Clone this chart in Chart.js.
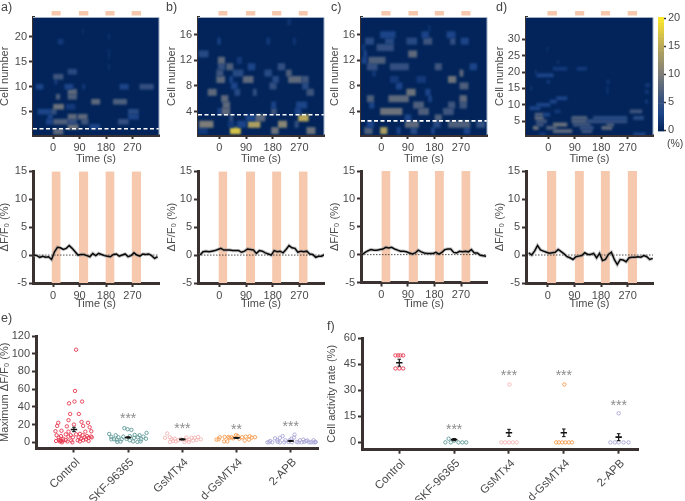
<!DOCTYPE html>
<html>
<head>
<meta charset="utf-8">
<script src="https://cdn.jsdelivr.net/npm/chart.js@4"></script>
<style>
  html, body { margin: 0; padding: 0; background: #fff; }
  #page { position: relative; width: 685px; height: 501px; overflow: hidden; font-family: "Liberation Sans", Arial, sans-serif; color: #444; }
  canvas { position: absolute; }
  .lab { position: absolute; white-space: nowrap; line-height: 1; }
</style>
</head>
<body>
<div id="page"></div>
<script>
// heat map cells: [cell row, start (s), end (s), dF/F0 (%)]
const cellsA = [[1,0,34,8],[2,51,85,9],[2,125,159,3],[3,-23,0,3],[3,0,51,7],[3,51,80,5],[3,97,119,6],[3,222,256,5],
  [4,-17,0,3],[4,51,80,8],[4,85,116,8],[4,256,290,3],[5,-51,-6,3],[5,-6,11,5],[5,256,290,4],[6,0,36,9],[6,45,75,2],
  [7,131,159,8],[7,205,250,7],[8,11,23,7],[8,51,80,7],[9,51,80,8],[10,-57,-34,3],[10,40,68,3],[10,227,256,3],
  [10,295,341,5],[10,100,108,2],[11,5,15,2],[12,0,34,6],[13,51,80,4],[14,188,192,1.5],[16,188,192,1.5],[17,188,192,1.5],
  [19,17,34,2],[20,188,192,1.5],[21,100,104,1]];
const cellsB = [[1,37,71,17],[1,176,199,9],[1,295,323,9],[1,-70,-40,2],[2,-67,-21,10],[2,97,137,14],[2,199,227,11],
  [2,255,266,5],[2,30,50,2],[2,60,90,3],[3,120,154,8],[3,267,300,15],[3,35,45,5],[3,90,120,3],[4,7,35,8],[4,176,192,6],
  [4,255,275,3],[4,-5,5,3],[5,12,35,8],[5,260,295,3],[5,176,190,3],[6,7,29,8],[7,-38,-10,8],[7,52,69,4],[7,114,125,5],
  [7,295,318,6],[8,170,192,5],[8,40,60,3],[8,280,300,4],[9,-9,18,8],[9,35,45,3],[9,80,114,8],[9,233,278,8],[9,278,300,6],
  [9,180,200,4],[10,-9,12,6],[10,46,80,4],[10,153,176,4],[10,226,243,7],[11,-4,18,5],[11,24,46,7],[11,97,120,3],
  [11,198,221,5],[12,-4,18,8],[12,60,75,2],[13,-70,-38,4],[15,-5,3,3],[15,160,170,2],[15,250,256,2],[18,230,240,1.5]];
const cellsC = [[1,-57,-31,7],[1,-3,19,14],[1,53,64,3],[1,100,120,4],[1,170,180,3],[1,280,300,3],[2,-48,-26,3],[2,81,126,8],
  [2,227,300,7],[2,323,351,5],[2,177,199,4],[3,182,204,7],[3,80,100,3],[4,-3,70,9],[4,126,160,7],[4,210,244,6],[5,109,143,7],
  [5,227,249,6],[5,266,289,6],[5,-40,-25,3],[6,-48,-26,7],[6,25,92,8],[6,266,289,8],[6,160,170,3],[7,86,115,9],[7,150,165,3],
  [8,266,294,7],[8,50,70,3],[9,30,58,2],[9,227,253,9],[9,120,150,2],[10,266,277,8],[10,-30,-20,2],[11,-48,-14,5],[11,30,92,5],
  [11,182,204,6],[11,300,323,3],[12,-43,13,7],[12,-65,-50,3],[13,92,120,8],[13,-60,-50,3],[14,-15,41,5],[14,-65,-55,2],
  [15,-54,-26,4],[15,14,41,4],[15,86,120,4],[15,143,171,6],[15,234,250,5],[15,270,295,3],[16,-3,47,3],[16,137,160,3],
  [16,222,250,3],[17,160,165,1.5]];
const cellsD = [[1,290,330,3],[1,-30,-10,2],[2,17,80,8],[2,114,148,6],[3,-51,-34,9],[3,-6,28,7],[3,108,153,5],[3,182,216,8],
  [4,-40,-17,6],[4,17,63,9],[4,85,142,6],[4,199,222,7],[5,-40,-6,6],[5,80,130,7],[5,130,267,5],[6,-45,-17,8],[6,80,131,7],
  [6,153,267,4],[6,290,324,4],[7,-45,-17,7],[7,-17,5,3],[8,278,318,6],[8,22,40,2],[9,-63,-28,3],[10,-40,6,3],[11,6,28,3],
  [12,28,63,3],[15,199,203,2],[14,199,203,2],[17,199,207,2],[19,-40,17,3],[20,-45,-40,2],[21,17,63,2],[21,97,131,2],
  [15,-60,-56,2],[27,-5,-1,1.5],[17,-5,5,2],[16,330,345,2],[14,330,340,2],[11,330,338,2],[23,30,35,1.5]];

// light on periods per panel (s)
const stimA = [[-5,26],[88,120],[178,209],[267,299]];
const stimB = [[-3,27],[90,121],[178,209],[268,298]];
const stimC = [[0,31],[92,124],[181,212],[271,302]];
const stimD = [[-3,29],[91,122],[179,210],[270,302]];

const timeTicks = [0, 90, 180, 270];
const rowTicksA = [5, 10, 15, 20];
const rowTicksB = [4, 8, 12, 16];
const rowTicksD = [5, 10, 15, 20, 25, 30];
const traceTicks = [-5, 0, 5, 10, 15];

// mean traces, one value every 10 s
const traceTimes = [-65,-55,-45,-35,-25,-15,-5,5,15,25,35,45,55,65,75,85,95,105,115,125,135,145,155,165,175,185,195,205,215,225,235,245,255,265,275,285,295,305,315,325,335,345,355];
const traceA = [0,-0.1,-0.4,-0.2,-0.4,-0.3,-0.8,0.6,1.4,1.3,1,1.2,1.7,1.2,0.6,0,0.1,0.1,-0.1,-0.3,0.3,-0.1,0.3,0.1,-0.1,-0.2,-0.3,0.1,0.2,-0.2,0,0.2,-0.3,-0.1,0.4,0,-0.2,0.2,0.1,0.2,-0.1,-0.6,-0.3];
const traceB = [0,0.6,0.7,0.6,0.7,0.8,1,1.2,0.9,0.9,0.9,0.8,0.8,0.8,0.5,0.7,1.1,1,0.9,0.3,0.8,0.7,0.4,0.2,0,0.8,0.6,0.7,0.4,1,1.7,1.3,1.2,0.5,0.7,0.6,0.7,0.2,0.1,-0.4,-0.2,-0.2,0.1];
const traceC = [0,0.4,0.7,0.9,0.8,0.8,0.9,1,1.3,1.2,1.3,1,0.8,0.6,0.6,0.5,0.3,0.1,0.3,0.8,0.5,0.3,0.2,0.2,0.2,0.4,0.1,0.4,0.9,1,1,0.4,0.3,0.6,0.5,0.6,0.5,0.9,0.3,0.3,-0.1,-0.2,-0.3];
const traceD = [0.4,0,0.7,1.7,0.9,0.7,0.5,0.3,0.4,0.5,1,0.6,0.2,-0.3,-0.5,-0.8,-0.3,-0.2,-0.1,0.4,0.1,0.1,0.3,-0.5,0.3,-1,-0.8,0.1,0.5,-0.8,-1.7,-0.8,-0.9,-1.2,-0.5,-0.4,-0.4,-0.3,-0.4,-0.1,-0.3,-0.8,-0.6];

// panels e and f: categories, and points as [offset from category, value]
const groups = ['Control', 'SKF-96365', 'GsMTx4', 'd-GsMTx4', '2-APB'];
const groupColors = ['#e8384f', '#5f9a98', '#f4b4b4', '#f59a4c', '#a9a6d6'];
const maxControl = [[.04,104.5],[.02,58],[-.09,44],[.01,46],[.15,46],[-.07,32],[.09,32],[-.1,25],[-.29,22],[.14,23],[.26,22],[-.31,18.5],[-.13,18],[0,20],[.17,18.5],[.29,17],[-.34,12.5],[.32,12.5],[-.23,13],[-.1,12],[.21,12],[.11,9.5],[-.32,8],[-.24,7],[-.15,9],[-.06,8],[.04,9],[.16,8],[.24,7],[.31,6.5],[-.28,5.3],[-.2,4],[-.1,6.4],[-.02,5.6],[.09,5.6],[.2,5.6],[.27,5],[-.33,1.5],[-.28,2.6],[-.24,1.5],[-.2,2],[-.12,1],[-.05,2],[-.03,0],[.07,2.3],[.11,1],[.17,2.3],[.27,1.5],[-.22,0],[-.26,1],[-.15,2.6],[.13,4],[.22,3.4],[.33,5.6]];
const maxSkf = [[-.07,16],[-.01,14.7],[.06,14],[-.35,9.4],[.34,10.6],[-.23,8],[.12,8.3],[.21,8],[-.31,6],[-.18,5.7],[-.09,6.4],[.03,7],[.18,5.7],[.28,6.4],[-.26,3.4],[-.12,3.4],[-.03,3.8],[.11,5],[.24,3.4],[.33,4],[-.31,3.4],[-.2,.4],[-.14,.8],[.03,2.3],[.09,1],[.17,.4],[.23,1],[-.21,3]];
const maxGs = [[-.28,10],[-.32,5],[-.23,5.7],[.29,6],[.23,5],[.34,3.4],[-.14,4],[-.2,3.4],[-.23,.4],[-.08,2.3],[.06,2.6],[.13,3],[.2,2],[.26,2.6],[-.03,3.4],[-.12,1],[.04,.4],[.12,.4],[.17,5],[.07,5.3],[-.17,1.5]];
const maxDGs = [[-.37,3],[-.31,5.7],[-.22,6],[-.13,5],[-.09,5.7],[-.01,8],[.02,7],[.1,5.7],[.17,6.4],[.24,6.8],[.34,5.7],[.28,5.3],[-.23,1],[-.17,1],[-.15,6],[.15,2],[.23,3],[.05,4],[-.06,4.5],[-.33,3.4]];
const maxApb = [[-.43,0],[-.38,1.5],[-.34,0],[-.29,4.5],[-.24,.4],[-.2,5],[-.15,7],[-.1,2.3],[-.04,.4],[.01,4],[.06,5.3],[.07,8.7],[.11,.4],[.17,2.3],[.23,3],[.28,1.5],[.34,0],[.42,2.3],[.45,0],[-.4,0],[-.25,2.3],[-.2,0],[-.12,0],[-.02,2.3],[.02,0],[.14,0],[.2,0],[.25,.4],[.31,2],[.37,0],[.42,0],[.46,.4]];
const maxPoints = [maxControl, maxSkf, maxGs, maxDGs, maxApb];
const maxMeans = [14.5, 5.5, 3.3, 5, 1.5];
const maxSems = [2.5, 0.7, 0.6, 0.5, 0.5];
const maxStars = ['', '***', '***', '**', '***'];
const maxStarLevels = [0, 26, 15, 14, 17];

const rateControl = [[-.07,50],[-.02,50],[.02,50],[.07,50],[-.07,42.5],[0,42.5],[.07,42.5]];
const rateSkf = [[-.16,0],[-.1,2.1],[-.06,0],[0,1],[.08,0],[.15,0],[.22,0]];
const rateGs = [[.01,33.3],[-.14,0],[-.07,0],[0,0],[.07,0],[.14,0]];
const rateDGs = [[.01,33.3],[-.14,0],[-.09,0],[-.03,0],[.03,0],[.09,0],[.15,0]];
const rateApb = [[0,16.7],[-.15,0],[-.07,0],[0,0],[.09,0],[.18,0]];
const ratePoints = [rateControl, rateSkf, rateGs, rateDGs, rateApb];
const rateMeans = [45.8, 1.6, 5.5, 5.5, 3];
const rateSems = [2, 0.6, 2, 2.2, 2];
const rateStars = ['', '***', '***', '***', '***'];
const rateStarLevels = [0, 7, 38, 38, 21];

const heatColors = [[0, [2,36,90]], [3, [28,68,136]], [6, [62,85,125]], [10, [125,125,122]], [15, [185,168,90]], [20, [253,232,44]]];
const barTicks = [0, 5, 10, 15, 20];
const barLevels = [0,0.5,1,1.5,2,2.5,3,3.5,4,4.5,5,5.5,6,6.5,7,7.5,8,8.5,9,9.5,10,10.5,11,11.5,12,12.5,13,13.5,14,14.5,15,15.5,16,16.5,17,17.5,18,18.5,19,19.5,20];

const INK = '#3a3230', TEXT = '#4a4a4a', BAND = '#f6c8ad';
Chart.defaults.font.family = '"Liberation Sans", Arial, sans-serif';
Chart.defaults.font.size = 11;
Chart.defaults.color = TEXT;
Chart.defaults.animation = false;
Chart.defaults.plugins.legend.display = false;
Chart.defaults.plugins.tooltip.enabled = false;

const page = document.getElementById('page');

function heatColor(v) {
  for (let i = 1; i < heatColors.length; i++) {
    if (v <= heatColors[i][0]) {
      const [v0, c0] = heatColors[i - 1], [v1, c1] = heatColors[i];
      const f = (v - v0) / (v1 - v0);
      return 'rgb(' + c0.map((c, k) => Math.round(c + (c1[k] - c) * f)).join(',') + ')';
    }
  }
  return 'rgb(253,232,44)';
}

// canvas placed so that the plot area lands on box = {l, r, t, b}
function makeChart(box, canvasBox, config) {
  const c = document.createElement('canvas');
  c.width = canvasBox.r - canvasBox.l;
  c.height = canvasBox.b - canvasBox.t;
  c.style.left = canvasBox.l + 'px';
  c.style.top = canvasBox.t + 'px';
  page.appendChild(c);
  const sc = config.options.scales;
  const onRight = sc.y.position === 'right';
  config.options.responsive = false;
  config.options.maintainAspectRatio = false;
  config.options.devicePixelRatio = 1;
  config.options.layout = { padding: {
    top: box.t - canvasBox.t,
    right: onRight ? 0 : canvasBox.r - box.r,
    left: onRight ? box.l - canvasBox.l : 0,
    bottom: 0
  } };
  sc.x.afterFit = s => { s.height = canvasBox.b - box.b; };
  sc.y.afterFit = s => { s.width = onRight ? canvasBox.r - box.r : box.l - canvasBox.l; };
  return new Chart(c, config);
}

// offset off: the bar defaults would otherwise stretch these linear scales
function axis(ticks, min, max, title) {
  return {
    type: 'linear', min: min, max: max, offset: false,
    afterBuildTicks: s => { s.ticks = ticks.map(v => ({ value: v })); },
    border: { color: INK, width: 3 },
    grid: { offset: false, drawOnChartArea: false, tickColor: INK, tickWidth: 2, tickLength: 4 },
    ticks: { color: TEXT, font: { size: 11 }, padding: 2, maxRotation: 0, autoSkip: false, callback: v => v },
    title: { display: !!title, text: title, color: TEXT, font: { size: 11 }, padding: 0 }
  };
}

function heatPanel(o) {
  const heatBack = {
    id: 'heatBack',
    beforeDatasetsDraw(ch) {
      const a = ch.chartArea;
      ch.ctx.fillStyle = heatColor(0);
      ch.ctx.fillRect(a.left, a.top, a.right - a.left, a.bottom - a.top);
    },
    // the cells look soft in the source image
    beforeDatasetDraw(ch, args) {
      if (args.meta.type === 'bar') ch.ctx.filter = 'blur(1.3px)';
    },
    afterDatasetDraw(ch) {
      ch.ctx.filter = 'none';
    },
    afterDraw(ch) {
      const x = ch.scales.x, a = ch.chartArea, c = ch.ctx;
      c.fillStyle = BAND;
      o.stim.forEach(s => {
        c.fillRect(x.getPixelForValue(s[0]), 11, x.getPixelForValue(s[1]) - x.getPixelForValue(s[0]), 4.5);
      });
      // pale frame on the open sides of the map
      c.strokeStyle = '#9fb0c8';
      c.lineWidth = 1;
      c.beginPath();
      c.moveTo(a.left, a.top);
      c.lineTo(a.right, a.top);
      c.lineTo(a.right, a.bottom);
      c.stroke();
    }
  };
  const datasets = [{
    type: 'bar', indexAxis: 'y', xAxisID: 'x', yAxisID: 'y', order: 2,
    data: o.cells.map(c => ({ y: c[0], x: [c[1], c[2]], v: c[3] })),
    backgroundColor: ctx => heatColor(ctx.raw ? ctx.raw.v : 0),
    barPercentage: 1, categoryPercentage: 1, borderWidth: 0
  }];
  if (o.cut !== undefined) {
    datasets.push({
      type: 'line', xAxisID: 'x', yAxisID: 'y', order: 1,
      data: [{ x: o.xMin, y: o.cut }, { x: o.xMax, y: o.cut }],
      borderColor: '#fff', borderWidth: 1.6, borderDash: [4, 2.5], pointRadius: 0
    });
  }
  makeChart(o.box, { l: o.titleX - 7, r: o.box.r + 8, t: 0, b: 166 }, {
    type: 'bar',
    data: { datasets: datasets },
    options: { scales: {
      x: axis(timeTicks, o.xMin, o.xMax, 'Time (s)'),
      y: axis(o.rowTicks, o.rowMin, o.rowMax, 'Cell number')
    } },
    plugins: [heatBack]
  });
}

function tracePanel(o) {
  const sets = o.stim.map(s => ({
    type: 'line', order: 4, pointRadius: 0, borderWidth: 0,
    data: [{ x: s[0], y: 15 }, { x: s[1], y: 15 }],
    fill: { value: -5 }, backgroundColor: BAND
  }));
  const pts = traceTimes.map((t, i) => ({ x: t, y: o.trace[i] }));
  sets.push({ type: 'line', order: 3, pointRadius: 0, borderColor: '#222', borderWidth: 0.8, borderDash: [1.5, 1.5],
    data: [{ x: o.xMin, y: 0 }, { x: o.xMax, y: 0 }] });
  sets.push({ type: 'line', order: 2, pointRadius: 0, borderColor: 'rgba(150,150,150,0.55)', borderWidth: 3.4, data: pts });
  sets.push({ type: 'line', order: 1, pointRadius: 0, borderColor: '#0a0a0a', borderWidth: 1.5, data: pts });
  makeChart(o.box, { l: o.titleX - 7, r: o.box.r + 8, t: 160, b: 311 }, {
    type: 'line',
    data: { datasets: sets },
    options: { scales: {
      x: axis(timeTicks, o.xMin, o.xMax, 'Time (s)'),
      y: axis(traceTicks, -5, 15, o.yTitle)
    } }
  });
}

function groupPanel(o) {
  const sets = o.points.map((list, g) => ({
    type: 'scatter', order: 3,
    data: list.map(p => ({ x: g + 1 + p[0], y: p[1] })),
    pointRadius: 1.7, pointBorderWidth: 0.9, pointBorderColor: groupColors[g], pointBackgroundColor: 'rgba(255,255,255,0)', showLine: false
  }));
  o.means.forEach((m, g) => {
    sets.push({ type: 'line', order: 2, borderColor: '#111', borderWidth: 1.2,
      pointStyle: 'line', pointRadius: 1.8, pointBorderWidth: 1, pointBorderColor: '#111',
      data: [{ x: g + 1, y: m - o.sems[g] }, { x: g + 1, y: m + o.sems[g] }] });
  });
  sets.push({ type: 'scatter', order: 1, showLine: false, pointStyle: 'line', pointRadius: 3.2, pointBorderWidth: 1.6, pointBorderColor: '#111',
    data: o.means.map((m, g) => ({ x: g + 1, y: m })) });
  const starMarks = {
    id: 'starMarks',
    afterDatasetsDraw(ch) {
      const c = ch.ctx;
      c.save();
      c.fillStyle = '#8c8c8c';
      c.font = '14px "Liberation Sans", Arial, sans-serif';
      c.textAlign = 'center';
      c.textBaseline = 'middle';
      o.stars.forEach((s, g) => {
        if (s) c.fillText(s, ch.scales.x.getPixelForValue(g + 1), ch.scales.y.getPixelForValue(o.starLevels[g]));
      });
      c.restore();
    }
  };
  const xAxis = axis([1, 2, 3, 4, 5], o.xMin, o.xMax, '');
  xAxis.ticks = Object.assign({}, xAxis.ticks, { maxRotation: 45, minRotation: 45, padding: 3, labelOffset: 4, font: { size: 11.5 }, callback: v => groups[v - 1] });
  makeChart(o.box, { l: o.titleX - 7, r: o.box.r + 4, t: o.box.t - 10, b: 501 }, {
    type: 'line',
    data: { datasets: sets },
    options: { scales: { x: xAxis, y: axis(o.yTicks, o.yMin, o.yMax, o.yTitle) } },
    plugins: [starMarks]
  });
}

const F0 = '\u0394F/F\u2080 (%)';

heatPanel({ box: { l: 33, r: 159, t: 17.5, b: 135 }, titleX: 5, cells: cellsA, stim: stimA, rowTicks: rowTicksA, rowMin: 0.35, rowMax: 23.85, xMin: -68, xMax: 360, cut: 1.6 });
heatPanel({ box: { l: 198, r: 324, t: 17.5, b: 135 }, titleX: 172, cells: cellsB, stim: stimB, rowTicks: rowTicksB, rowMin: 0.32, rowMax: 18.7, xMin: -72, xMax: 353, cut: 3.48 });
heatPanel({ box: { l: 361, r: 487, t: 17.5, b: 135 }, titleX: 335, cells: cellsC, stim: stimC, rowTicks: rowTicksB, rowMin: 0.32, rowMax: 18.7, xMin: -69, xMax: 358, cut: 2.53 });
heatPanel({ box: { l: 526, r: 653, t: 17.5, b: 135 }, titleX: 500, cells: cellsD, stim: stimD, rowTicks: rowTicksD, rowMin: 0.82, rowMax: 36.6, xMin: -76, xMax: 356 });

tracePanel({ box: { l: 33, r: 159, t: 171.3, b: 283 }, titleX: 5, trace: traceA, stim: stimA, xMin: -68, xMax: 360, yTitle: F0 });
tracePanel({ box: { l: 198, r: 324, t: 171.3, b: 283 }, titleX: 172, trace: traceB, stim: stimB, xMin: -72, xMax: 353, yTitle: F0 });
tracePanel({ box: { l: 361, r: 487, t: 171, b: 282.5 }, titleX: 335, trace: traceC, stim: stimC, xMin: -69, xMax: 358, yTitle: F0 });
tracePanel({ box: { l: 526, r: 653, t: 171, b: 283 }, titleX: 500, trace: traceD, stim: stimD, xMin: -74, xMax: 356, yTitle: F0 });

groupPanel({ box: { l: 36, r: 320, t: 336, b: 448.5 }, titleX: 5, points: maxPoints, means: maxMeans, sems: maxSems, stars: maxStars, starLevels: maxStarLevels,
  xMin: 0.3, xMax: 5.51, yMin: -7, yMax: 120, yTicks: [0, 20, 40, 60, 80, 100, 120], yTitle: 'Maximum ' + F0 });
groupPanel({ box: { l: 362, r: 640, t: 338.3, b: 450.7 }, titleX: 332, points: ratePoints, means: rateMeans, sems: rateSems, stars: rateStars, starLevels: rateStarLevels,
  xMin: 0.32, xMax: 5.36, yMin: -4.2, yMax: 60, yTicks: [0, 15, 30, 45, 60], yTitle: 'Cell activity rate (%)' });

// colour bar
makeChart({ l: 658, r: 664, t: 17, b: 135 }, { l: 650, r: 685, t: 0, b: 140 }, {
  type: 'bar',
  data: { datasets: [{
    indexAxis: 'y', xAxisID: 'x', yAxisID: 'y', barPercentage: 1, categoryPercentage: 1, borderWidth: 0,
    data: barLevels.map(v => ({ y: v, x: [0, 1] })),
    backgroundColor: ctx => heatColor(ctx.raw ? ctx.raw.y : 0)
  }] },
  options: { scales: {
    x: { type: 'linear', min: 0, max: 1, offset: false, border: { display: false }, grid: { display: false, offset: false }, ticks: { display: false } },
    y: Object.assign(axis(barTicks, -0.25, 20.25, ''), {
      position: 'right',
      border: { display: false },
      grid: { offset: false, drawOnChartArea: false, tickColor: INK, tickWidth: 1.5, tickLength: 2 }
    })
  } }
});

[['a)', 1, 1], ['b)', 166, 1], ['c)', 331, 1], ['d)', 496, 1], ['e)', 1, 312], ['f)', 327, 320]].forEach(t => {
  const d = document.createElement('div');
  d.className = 'lab';
  d.style.cssText = 'left:' + t[1] + 'px;top:' + t[2] + 'px;font-size:12.5px;';
  d.textContent = t[0];
  page.appendChild(d);
});
const unit = document.createElement('div');
unit.className = 'lab';
unit.style.cssText = 'left:667px;top:138px;font-size:10.5px;';
unit.textContent = '(%)';
page.appendChild(unit);
</script>
</body>
</html>
